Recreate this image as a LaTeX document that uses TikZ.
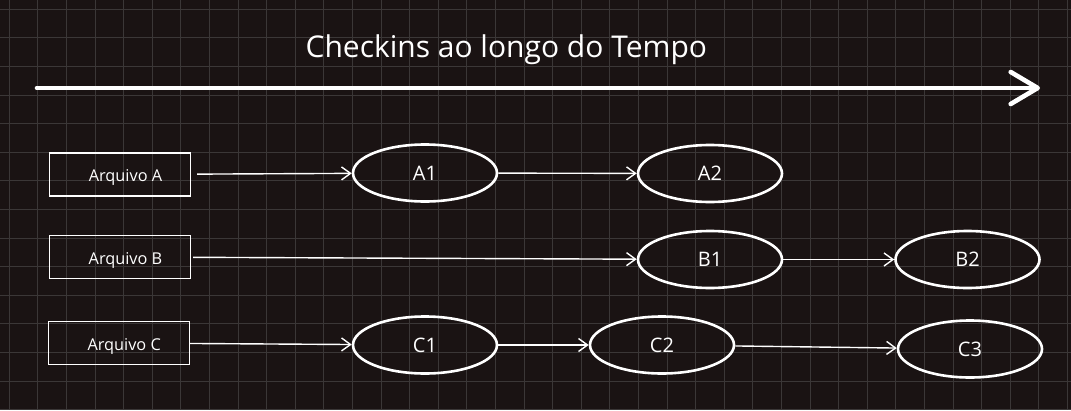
\documentclass[tikz,border=0pt]{standalone}
\usepackage{fontspec}
\setmainfont{Open Sans}
\usetikzlibrary{positioning,arrows.meta,shapes.geometric}
\definecolor{bgdark}{HTML}{1A1313}
\definecolor{gridgray}{HTML}{3B3737}

\begin{document}
\begin{tikzpicture}[x=1pt, y=-1pt,
	filebox/.style={draw=white, line width=1.4pt, minimum width=141pt, minimum height=43pt},
	boxtext/.style={text=white, xshift=5.5pt, yshift=-3pt, font=\fontsize{16.3}{18}\selectfont},
	checkin/.style={ellipse, draw=white, line width=2.6pt, minimum width=144pt, minimum height=57pt, font=\fontsize{20}{22}\selectfont},
	flow/.style={white, line width=1.4pt, -{Straight Barb[length=9pt, width=13pt]}}]
	\useasboundingbox[fill=bgdark] (0,0) rectangle (1071,410);

	% grid
	\foreach \k in {0,...,37}
		\draw [gridgray, line width=1pt] (9.3+28.6*\k, 0) -- (9.3+28.6*\k, 410);
	\foreach \k in {0,...,14}
		\draw [gridgray, line width=1pt] (0, 9.3+28.6*\k) -- (1071, 9.3+28.6*\k);

	\begin{scope}
		\tikzstyle{every node}=[align=center, text=white, inner sep=1pt]
		\node [anchor=base, font=\fontsize{30}{33}\selectfont] (ttl) at (506.3, 57.7) {Checkins ao longo do Tempo};

		% time axis
		\coordinate (t0) at (37, 88);
		\coordinate (t1) at (1040, 88);
		\draw [white, line width=4.6pt, line cap=round, -{Straight Barb[length=27pt, width=32pt, line cap=round, line join=round]}] (t0) -- (t1);

		\node [filebox, label={[boxtext]center:Arquivo A}] (arqA) at (120, 174.5) {};
		\node [filebox, label={[boxtext]center:Arquivo B}] (arqB) at (120, 257)   {};
		\node [filebox, label={[boxtext]center:Arquivo C}] (arqC) at (118.7, 343) {};

		\node [checkin] (a1) at (425, 173)   {A1};
		\node [checkin] (a2) at (710, 173.5) {A2};

		\node [checkin] (b1) at (710, 259.5) {B1};
		\node [checkin] (b2) at (967.5, 259.5) {B2};

		\node [checkin] (c1) at (425, 345) {C1};
		\node [checkin] (c2) at (662, 345) {C2};
		\node [checkin] (c3) at (970, 349) {C3};

		\draw [flow, shorten <=6pt] (arqA) to (a1);
		\draw [flow] (a1) to (a2);

		\draw [flow, shorten <=2pt] (arqB) to (b1);
		\draw [flow] (b1) to (b2);

		\draw [flow] (arqC) to (c1);
		\draw [flow] (c1) to (c2);
		\draw [flow] (c2) to (c3);
	\end{scope}
\end{tikzpicture}
\end{document}
